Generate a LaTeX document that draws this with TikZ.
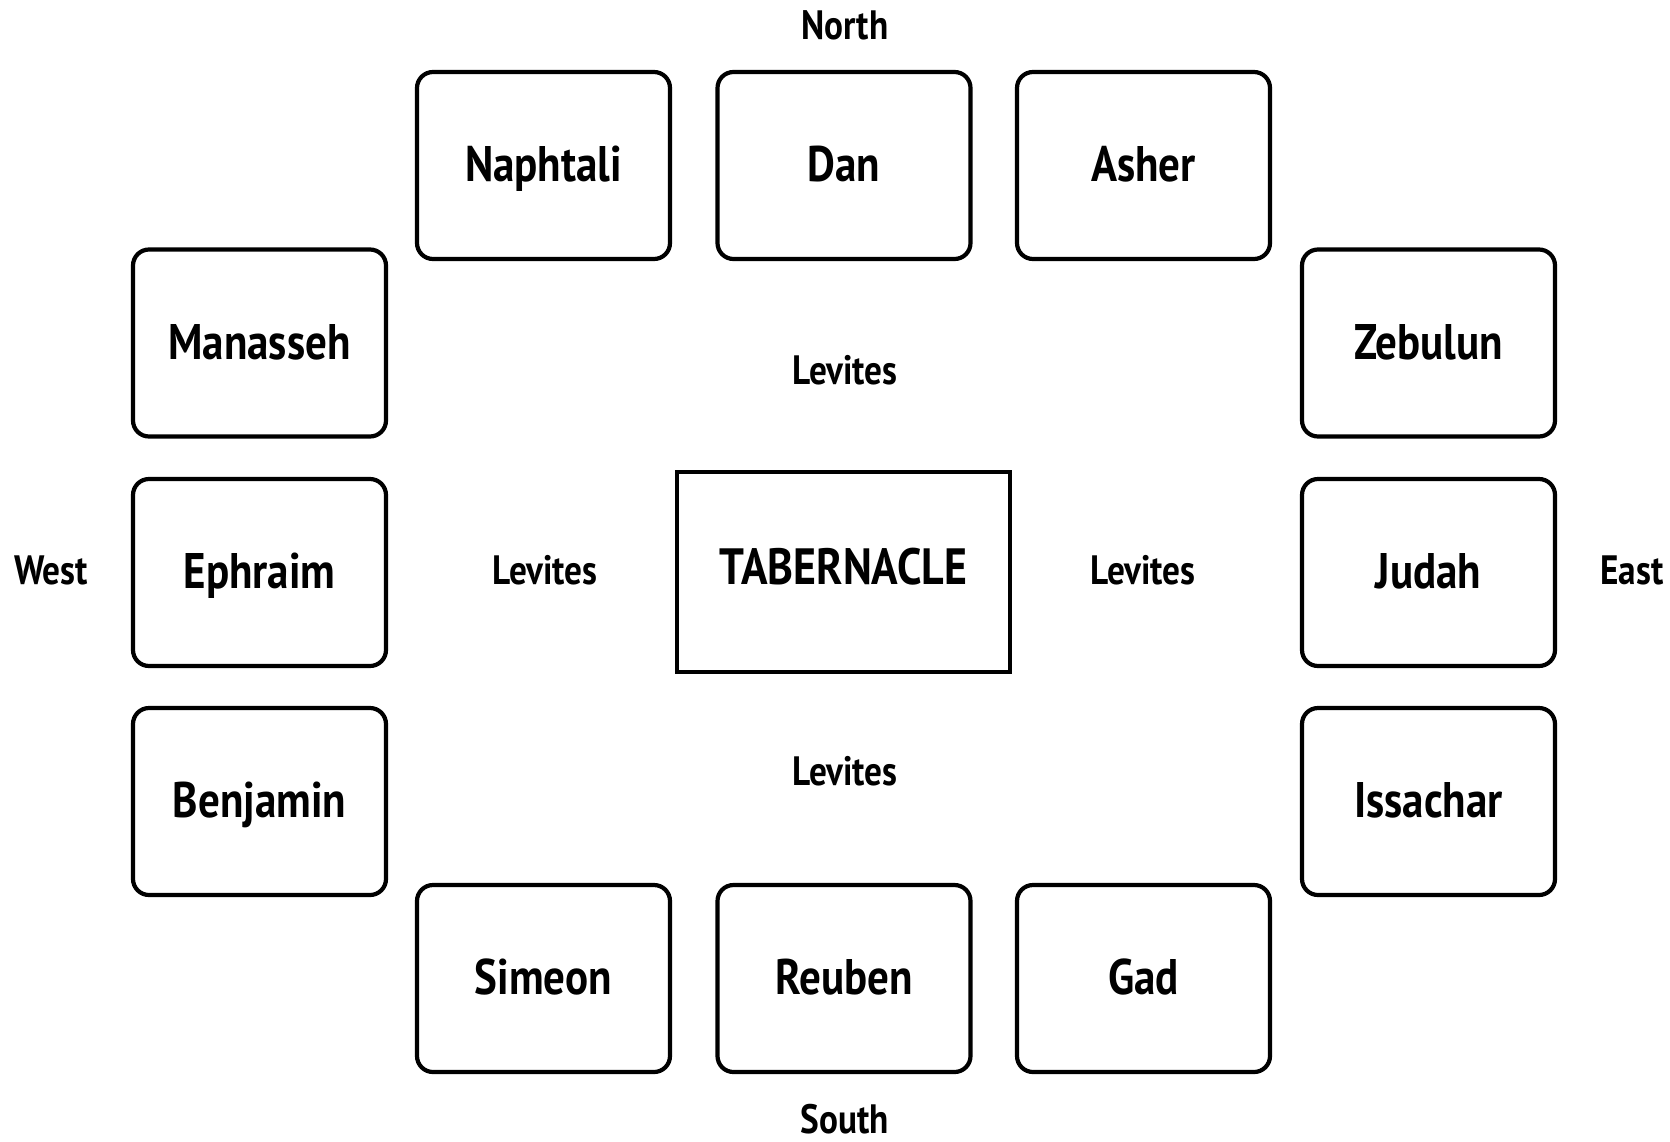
\documentclass[tikz,border=0pt]{standalone}
\usepackage{fontspec}
\setmainfont[FakeStretch=0.86]{PT Sans}
\begin{document}
\begin{tikzpicture}[x=1pt,y=-1pt,
  tribe/.style={draw=black,line width=4.2pt,rounded corners=16pt,minimum width=253pt,minimum height=187pt,inner sep=0pt,text height=32pt,text depth=0pt,font=\fontsize{50}{56}\selectfont\bfseries},
  tab/.style={draw=black,line width=4.2pt,minimum width=333pt,minimum height=200pt,inner sep=0pt,text height=24pt,text depth=0pt,font=\fontsize{51}{56}\selectfont\bfseries},
  lbl/.style={inner sep=0pt,font=\fontsize{41}{46}\selectfont\bfseries}]
\useasboundingbox (0,0) rectangle (1670,1141);
\node[tribe] (naphtali) at (543.5,165.5) {Naphtali};
\node[tribe] (dan) at (844,165.5) {Dan};
\node[tribe] (asher) at (1143.5,165.5) {Asher};
\node[tribe] (manasseh) at (259.5,343) {Manasseh};
\node[tribe] (ephraim) at (259.5,572.5) {Ephraim};
\node[tribe] (benjamin) at (259.5,801.5) {Benjamin};
\node[tribe] (zebulun) at (1428.5,343) {Zebulun};
\node[tribe] (judah) at (1428.5,572.5) {Judah};
\node[tribe] (issachar) at (1428.5,801.5) {Issachar};
\node[tribe] (simeon) at (543.5,978.5) {Simeon};
\node[tribe] (reuben) at (844,978.5) {Reuben};
\node[tribe] (gad) at (1143.5,978.5) {Gad};
\node[tab] (tabernacle) at (843.5,572) {TABERNACLE};
\node[lbl] (north) at (845,25) {North};
\node[lbl] (south) at (845,1119) {South};
\node[lbl] (west) at (51,570) {West};
\node[lbl] (east) at (1632,570) {East};
\node[lbl] (levN) at (845,370) {Levites};
\node[lbl] (levW) at (545,570) {Levites};
\node[lbl] (levE) at (1143,570) {Levites};
\node[lbl] (levS) at (845,771) {Levites};
\end{tikzpicture}
\end{document}
